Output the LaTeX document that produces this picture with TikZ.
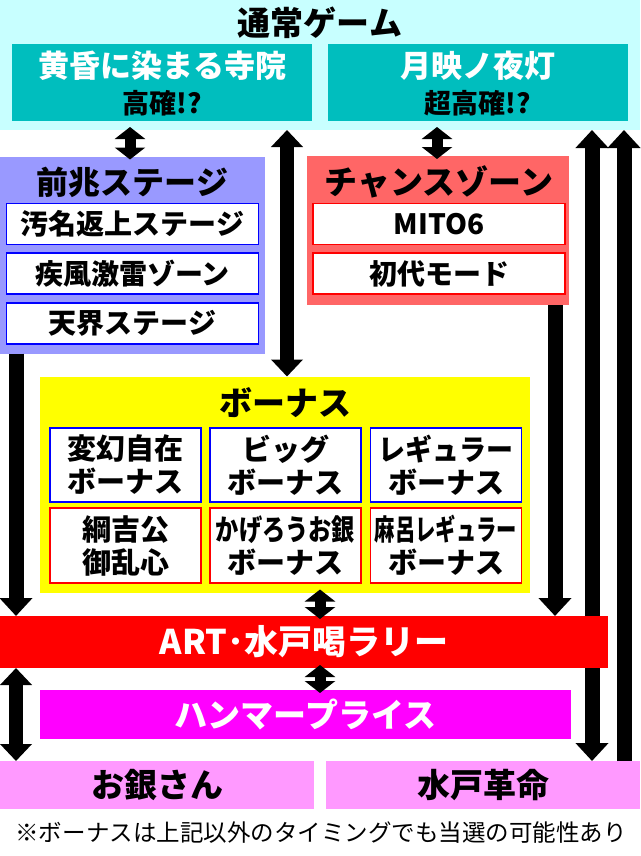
\documentclass[tikz,border=0pt]{standalone}
\usepackage{fontspec}
\usepackage{graphicx}
\setmainfont{Noto Sans CJK JP}
\usetikzlibrary{arrows.meta}
\definecolor{bandc}{RGB}{200,255,255}
\definecolor{tealc}{RGB}{0,190,190}
\definecolor{zenc}{RGB}{153,153,255}
\definecolor{chc}{RGB}{255,102,102}
\definecolor{pinkc}{RGB}{255,153,255}
\definecolor{yelc}{RGB}{255,255,0}
\definecolor{redc}{RGB}{255,0,0}
\definecolor{bluec}{RGB}{0,0,255}
\definecolor{magc}{RGB}{255,0,255}
\newcommand\myfs[2]{\fontsize{#1}{#2}\selectfont}
\begin{document}
\begin{tikzpicture}[x=1pt,y=-1pt,
  bx/.style={inner sep=0pt,outer sep=0pt,draw=none},
  tx/.style={inner sep=0pt,outer sep=0pt,font=\bfseries,text=black},
  subbox/.style={fill=white,draw=#1,line width=1.8pt,inner sep=0pt,outer sep=0pt,align=center,font=\bfseries\myfs{29}{33}},
  big/.style={line width=15pt,-{Triangle[width=32pt,length=18pt]}},
  bigd/.style={line width=14pt,{Triangle[width=31pt,length=17pt]}-{Triangle[width=31pt,length=17pt]}},
  sm/.style={line width=11pt,{Triangle[width=30pt,length=12pt]}-{Triangle[width=30pt,length=12pt]},shorten <=-3pt,shorten >=-3pt}]
\fill[white] (0,0) rectangle (640,856);
\useasboundingbox (0,0) rectangle (640,856);
% top band
\node[bx,fill=bandc,minimum width=640pt,minimum height=130pt] (band) at (320,65) {};
\node[tx,font=\bfseries\myfs{33}{33}] (bandt) at (320,23) {通常ゲーム};
\node[bx,fill=tealc,minimum width=300pt,minimum height=77pt] (tealL) at (162,83) {};
\node[tx,text=white,font=\bfseries\myfs{31}{31}] (tealLa) at (162,66) {黄昏に染まる寺院};
\node[tx,font=\bfseries\myfs{27}{27}] (tealLb) at (162,103) {高確!?};
\node[bx,fill=tealc,minimum width=300pt,minimum height=77pt] (tealR) at (478,83) {};
\node[tx,text=white,font=\bfseries\myfs{31}{31}] (tealRa) at (478,66) {月映ノ夜灯};
\node[tx,font=\bfseries\myfs{27}{27}] (tealRb) at (478,103) {超高確!?};
% zencho
\node[bx,fill=zenc,minimum width=265pt,minimum height=197pt] (zencho) at (132.5,255) {};
\node[tx,font=\bfseries\myfs{32}{32}] (zenchot) at (132.5,182) {前兆ステージ};
\node[subbox=bluec,minimum width=252pt,minimum height=41pt,font=\bfseries\myfs{28}{28}] (z1) at (132.5,224) {汚名返上ステージ};
\node[subbox=bluec,minimum width=252pt,minimum height=41pt,font=\bfseries\myfs{28}{28}] (z2) at (132.5,273.5) {疾風激雷ゾーン};
\node[subbox=bluec,minimum width=252pt,minimum height=41pt,font=\bfseries\myfs{28}{28}] (z3) at (132.5,323.5) {天界ステージ};
% chance
\node[bx,fill=chc,minimum width=262pt,minimum height=149pt] (chance) at (438,230.5) {};
\node[tx,font=\bfseries\myfs{33}{33}] (chancet) at (439,182) {チャンスゾーン};
\node[subbox=redc,minimum width=252pt,minimum height=41pt,font=\bfseries\myfs{28}{28}] (c1) at (439,224) {MITO6};
\node[subbox=redc,minimum width=252pt,minimum height=41pt,font=\bfseries\myfs{28}{28}] (c2) at (439,273.5) {初代モード};
% bonus
\node[bx,fill=yelc,minimum width=490pt,minimum height=216pt] (bonus) at (285,484.5) {};
\node[tx,font=\bfseries\myfs{33}{33}] (bonust) at (285,403) {ボーナス};
\node[subbox=bluec,minimum width=151pt,minimum height=74pt] (b1) at (125.5,465) {変幻自在\\ボーナス};
\node[subbox=bluec,minimum width=151pt,minimum height=74pt] (b2) at (285.5,465) {ビッグ\\ボーナス};
\node[subbox=bluec,minimum width=151pt,minimum height=74pt] (b3) at (446,465) {\scalebox{0.93}[1]{レギュラー}\\ボーナス};
\node[subbox=redc,minimum width=151pt,minimum height=75pt] (b4) at (125.5,545.5) {綱吉公\\御乱心};
\node[subbox=redc,minimum width=151pt,minimum height=75pt] (b5) at (285.5,545.5) {\scalebox{0.8}[1]{かげろうお銀}\\ボーナス};
\node[subbox=redc,minimum width=151pt,minimum height=75pt] (b6) at (446,545.5) {\scalebox{0.7}[1]{麻呂レギュラー}\\ボーナス};
% ART
\node[bx,fill=redc,minimum width=608pt,minimum height=52pt,text=white,font=\bfseries\myfs{34}{34}] (art) at (304,642) {ART･水戸喝ラリー};
\node[bx,fill=magc,minimum width=531pt,minimum height=49pt,text=white,font=\bfseries\myfs{33}{33}] (hammer) at (305.5,714.5) {ハンマープライス};
\node[bx,fill=pinkc,minimum width=314pt,minimum height=48pt,font=\bfseries\myfs{33}{33}] (ogin) at (157,785) {お銀さん};
\node[bx,fill=pinkc,minimum width=314pt,minimum height=48pt,font=\bfseries\myfs{33}{33}] (mito) at (483,785) {水戸革命};
\node[tx,font=\mdseries\myfs{23.5}{23.5}] (note) at (321,833) {※ボーナスは上記以外のタイミングでも当選の可能性あり};
% arrow columns
\coordinate (xa) at (16,0);
\coordinate (xb) at (130,0);
\coordinate (xc) at (287,0);
\coordinate (xd) at (320,0);
\coordinate (xe) at (437,0);
\coordinate (xf) at (555,0);
\coordinate (xg) at (592,0);
\coordinate (xh) at (624,0);
\draw[sm] (band.south -| xb) -- (zencho.north -| xb);
\draw[sm] (band.south -| xe) -- (chance.north -| xe);
\draw[bigd] (band.south -| xc) -- (bonus.north -| xc);
\draw[big] (zencho.south -| xa) -- (art.north -| xa);
\draw[bigd] (art.south -| xa) -- (ogin.north -| xa);
\draw[sm] (bonus.south -| xd) -- (art.north -| xd);
\draw[sm] (art.south -| xd) -- (hammer.north -| xd);
\draw[big] (chance.south -| xf) -- (art.north -| xf);
\draw[big] (art.north -| xg) -- (band.south -| xg);
\draw[big] (art.south -| xg) -- (mito.north -| xg);
\draw[big] (mito.north -| xh) -- (band.south -| xh);
\end{tikzpicture}
\end{document}
